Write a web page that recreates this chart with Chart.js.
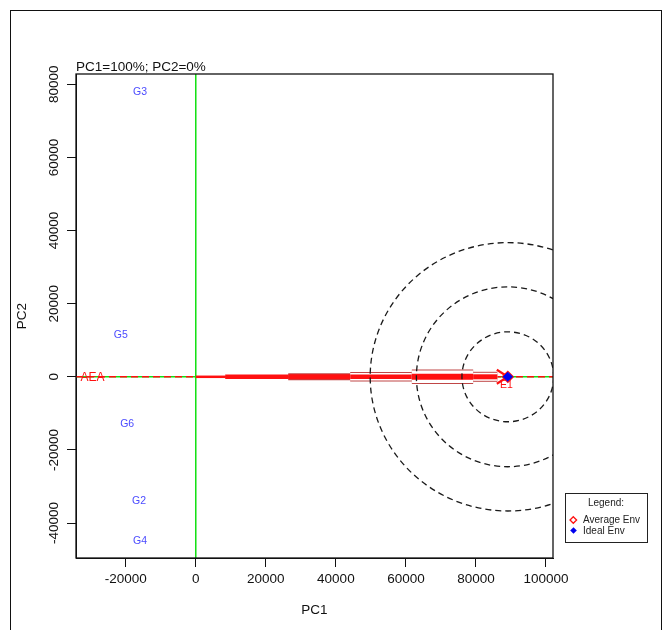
<!DOCTYPE html>
<html>
<head>
<meta charset="utf-8">
<script src="https://cdn.jsdelivr.net/npm/chart.js@4.4.1/dist/chart.umd.min.js"></script>
<style>
  html, body { margin: 0; padding: 0; background: #fff; }
  canvas { display: block; }
</style>
</head>
<body>
<canvas id="biplot" width="671" height="630"></canvas>
<script>
// ---- GGE biplot scores ----
const genoNames = ['G3', 'G5', 'G6', 'G2', 'G4'];
const genoPC1 = [-15900, -21400, -19600, -16200, -15900];
const genoPC2 = [77800, 11400, -12900, -34000, -44900];

const envNames = ['E1'];
const envPC1 = [88700];
const envPC2 = [-2200];

// average environment axis label and ideal environment
const aeaPC1 = [-29500];
const aeaPC2 = [0];
const idealPC1 = [89100];
const idealPC2 = [0];

// concentric rings around the ideal environment (PC1 / PC2 radii)
const ringRx = [13100, 26100, 39300];
const ringRy = [12300, 24600, 36700];

// steps along the arrow from the origin towards the ideal environment
const arrowBreaks = [0, 8400, 26400, 44100, 61700, 79200, 86100];

// axes
const xMin = -34200, xMax = 102000;
const yMin = -49560, yMax = 82820;
const xTicks = [-20000, 0, 20000, 40000, 60000, 80000, 100000];
const yTicks = [-40000, -20000, 0, 20000, 40000, 60000, 80000];

const subtitle = 'PC1=100%; PC2=0%';

// ---- styling ----
const FONT = '"Liberation Sans", Arial, sans-serif';
const RED = '#ff1010';
const DARKRED = '#c04646';
const GREEN = '#10e010';
const BLUE = '#0000ee';
const LABEL_BLUE = '#4b4bff';
const INK = '#111';

// look of each arrow step: outline width, white gap width, red core width
const arrowLook = [
  { core: 2.5 },
  { core: 4.5 },
  { outline: 7, core: 5 },
  { outline: 9.5, gap: 7.5, core: 4.5 },
  { outline: 14.5, gap: 12.5, core: 6 },
  { outline: 10, gap: 8, core: 5 }
];

const layers = [];
function lineLayer(label, pts, color, width, dash) {
  layers.push({
    label, data: pts, showLine: true, borderColor: color, borderWidth: width,
    borderDash: dash || [], borderCapStyle: 'butt', pointRadius: 0, pointHoverRadius: 0, fill: false
  });
}

// reference axes through the origin
lineLayer('PC1 axis', [{ x: 0, y: yMin }, { x: 0, y: yMax }], GREEN, 1.5);
lineLayer('PC2 axis', [{ x: xMin, y: 0 }, { x: xMax, y: 0 }], GREEN, 1.5);
lineLayer('AEA', [{ x: xMin, y: 0 }, { x: xMax, y: 0 }], RED, 1.5, [7, 4]);

// arrow body
for (let i = 0; i < arrowBreaks.length - 1; i++) {
  const pts = [{ x: arrowBreaks[i], y: idealPC2[0] }, { x: arrowBreaks[i + 1], y: idealPC2[0] }];
  const look = arrowLook[i];
  if (look.outline) lineLayer('arrow-outline', pts, DARKRED, look.outline);
  if (look.gap) lineLayer('arrow-gap', pts, '#ffffff', look.gap);
  lineLayer('arrow-core', pts, RED, look.core);
}

// environment markers
layers.push({
  label: 'Average Env', data: [{ x: idealPC1[0], y: idealPC2[0] }],
  pointStyle: 'rectRot', pointRadius: 5.5, borderColor: RED, borderWidth: 1.3,
  backgroundColor: 'rgba(0,0,0,0)', pointHoverRadius: 0
});
layers.push({
  label: 'Ideal Env', data: [{ x: idealPC1[0], y: idealPC2[0] }],
  pointStyle: 'rectRot', pointRadius: 4.6, borderColor: BLUE, borderWidth: 1,
  backgroundColor: BLUE, pointHoverRadius: 0
});

// label-only points
layers.push({ label: 'genotypes', data: genoPC1.map((x, i) => ({ x, y: genoPC2[i] })), pointRadius: 0 });
layers.push({ label: 'environments', data: envPC1.map((x, i) => ({ x, y: envPC2[i] })), pointRadius: 0 });
layers.push({ label: 'aea-label', data: aeaPC1.map((x, i) => ({ x, y: aeaPC2[i] })), pointRadius: 0 });

// datasets listed first are painted first
layers.forEach((d, i) => { d.order = layers.length - i; });

function metaByLabel(chart, label) {
  const idx = chart.data.datasets.findIndex(d => d.label === label);
  return chart.getDatasetMeta(idx);
}

function diamond(c, x, y, r) {
  c.beginPath();
  c.moveTo(x, y - r); c.lineTo(x + r, y); c.lineTo(x, y + r); c.lineTo(x - r, y); c.closePath();
}

const decor = {
  id: 'decor',
  beforeDraw(chart) {
    const c = chart.ctx;
    c.save();
    c.fillStyle = '#fff';
    c.fillRect(0, 0, chart.width, chart.height);
    c.strokeStyle = INK;
    c.lineWidth = 1;
    c.strokeRect(10.5, 10.5, 651, 660);
    c.restore();
  },
  beforeDatasetDraw(chart, args) {
    if (chart.data.datasets[args.index].label !== 'Average Env') return;
    const c = chart.ctx, a = chart.chartArea;
    const tx = chart.scales.x.getPixelForValue(idealPC1[0]);
    const ty = chart.scales.y.getPixelForValue(idealPC2[0]);
    c.save();
    c.beginPath(); c.rect(a.left, a.top, a.right - a.left, a.bottom - a.top); c.clip();
    c.strokeStyle = RED;
    c.lineWidth = 2.2;
    c.beginPath();
    c.moveTo(tx - 11, ty - 7); c.lineTo(tx, ty); c.lineTo(tx - 11, ty + 7);
    c.stroke();
    c.restore();
  },
  afterDatasetsDraw(chart) {
    const c = chart.ctx, a = chart.chartArea;
    const xs = chart.scales.x, ys = chart.scales.y;

    // dashed rings
    c.save();
    c.beginPath(); c.rect(a.left, a.top, a.right - a.left, a.bottom - a.top); c.clip();
    const cx = xs.getPixelForValue(idealPC1[0]);
    const cy = ys.getPixelForValue(idealPC2[0]);
    c.strokeStyle = '#1a1a1a';
    c.lineWidth = 1.3;
    c.setLineDash([6, 4]);
    ringRx.forEach((rx, i) => {
      const px = xs.getPixelForValue(idealPC1[0] + rx) - cx;
      const py = cy - ys.getPixelForValue(idealPC2[0] + ringRy[i]);
      c.beginPath();
      c.ellipse(cx, cy, px, py, 0, 0, Math.PI * 2);
      c.stroke();
    });
    c.restore();

    // point labels
    c.save();
    c.textAlign = 'center';
    c.textBaseline = 'middle';
    c.font = '10.5px ' + FONT;
    c.fillStyle = LABEL_BLUE;
    metaByLabel(chart, 'genotypes').data.forEach((p, i) => c.fillText(genoNames[i], p.x, p.y));
    c.fillStyle = RED;
    metaByLabel(chart, 'environments').data.forEach((p, i) => c.fillText(envNames[i], p.x, p.y));
    c.font = '12px ' + FONT;
    metaByLabel(chart, 'aea-label').data.forEach(p => c.fillText('AEA', p.x, p.y + 1));
    c.restore();

    // plot frame
    c.save();
    c.strokeStyle = INK;
    c.lineWidth = 1.3;
    c.strokeRect(a.left, a.top, a.right - a.left, a.bottom - a.top);

    // subtitle
    c.fillStyle = INK;
    c.font = '13.5px ' + FONT;
    c.textAlign = 'left';
    c.textBaseline = 'alphabetic';
    c.fillText(subtitle, a.left, a.top - 3);

    // legend
    c.lineWidth = 1;
    c.strokeStyle = '#222';
    c.strokeRect(565.5, 493.5, 82, 49);
    c.font = '10px ' + FONT;
    c.fillStyle = '#222';
    c.textAlign = 'center';
    c.textBaseline = 'middle';
    c.fillText('Legend:', 606, 503.5);
    c.textAlign = 'left';
    c.fillText('Average Env', 583, 520.5);
    c.fillText('Ideal Env', 583, 531);
    c.strokeStyle = RED; c.lineWidth = 1.3;
    diamond(c, 573.3, 520, 3.3); c.stroke();
    c.fillStyle = BLUE;
    diamond(c, 573.5, 530.5, 3.3); c.fill();
    c.restore();
  }
};

const tickFont = { family: FONT, size: 13.5 };

new Chart(document.getElementById('biplot'), {
  type: 'scatter',
  data: { datasets: layers },
  options: {
    responsive: false,
    animation: false,
    devicePixelRatio: 1,
    events: [],
    layout: { padding: { left: 0, top: 74, right: 118, bottom: 0 } },
    plugins: { legend: { display: false }, tooltip: { enabled: false } },
    scales: {
      x: {
        type: 'linear', min: xMin, max: xMax,
        afterBuildTicks: s => { s.ticks = xTicks.map(v => ({ value: v })); },
        afterFit: s => { s.height = 72; },
        ticks: { callback: v => String(v), font: tickFont, color: INK, padding: 4, maxRotation: 0, minRotation: 0, autoSkip: false },
        grid: { drawOnChartArea: false, drawTicks: true, tickLength: 9, color: INK, lineWidth: 1 },
        border: { display: true, color: INK, width: 1 },
        title: { display: true, text: 'PC1', font: tickFont, color: INK, padding: { top: 0, bottom: 12 } }
      },
      y: {
        type: 'linear', min: yMin, max: yMax,
        afterBuildTicks: s => { s.ticks = yTicks.map(v => ({ value: v })); },
        afterFit: s => { s.width = 76; },
        ticks: { callback: v => String(v), font: tickFont, color: INK, padding: -8, minRotation: 90, maxRotation: 90, crossAlign: 'center', autoSkip: false },
        grid: { drawOnChartArea: false, drawTicks: true, tickLength: 9, color: INK, lineWidth: 1 },
        border: { display: true, color: INK, width: 1 },
        title: { display: true, text: 'PC2', font: tickFont, color: INK, padding: { top: 14, bottom: 0 } }
      }
    }
  },
  plugins: [decor]
});
</script>
</body>
</html>
